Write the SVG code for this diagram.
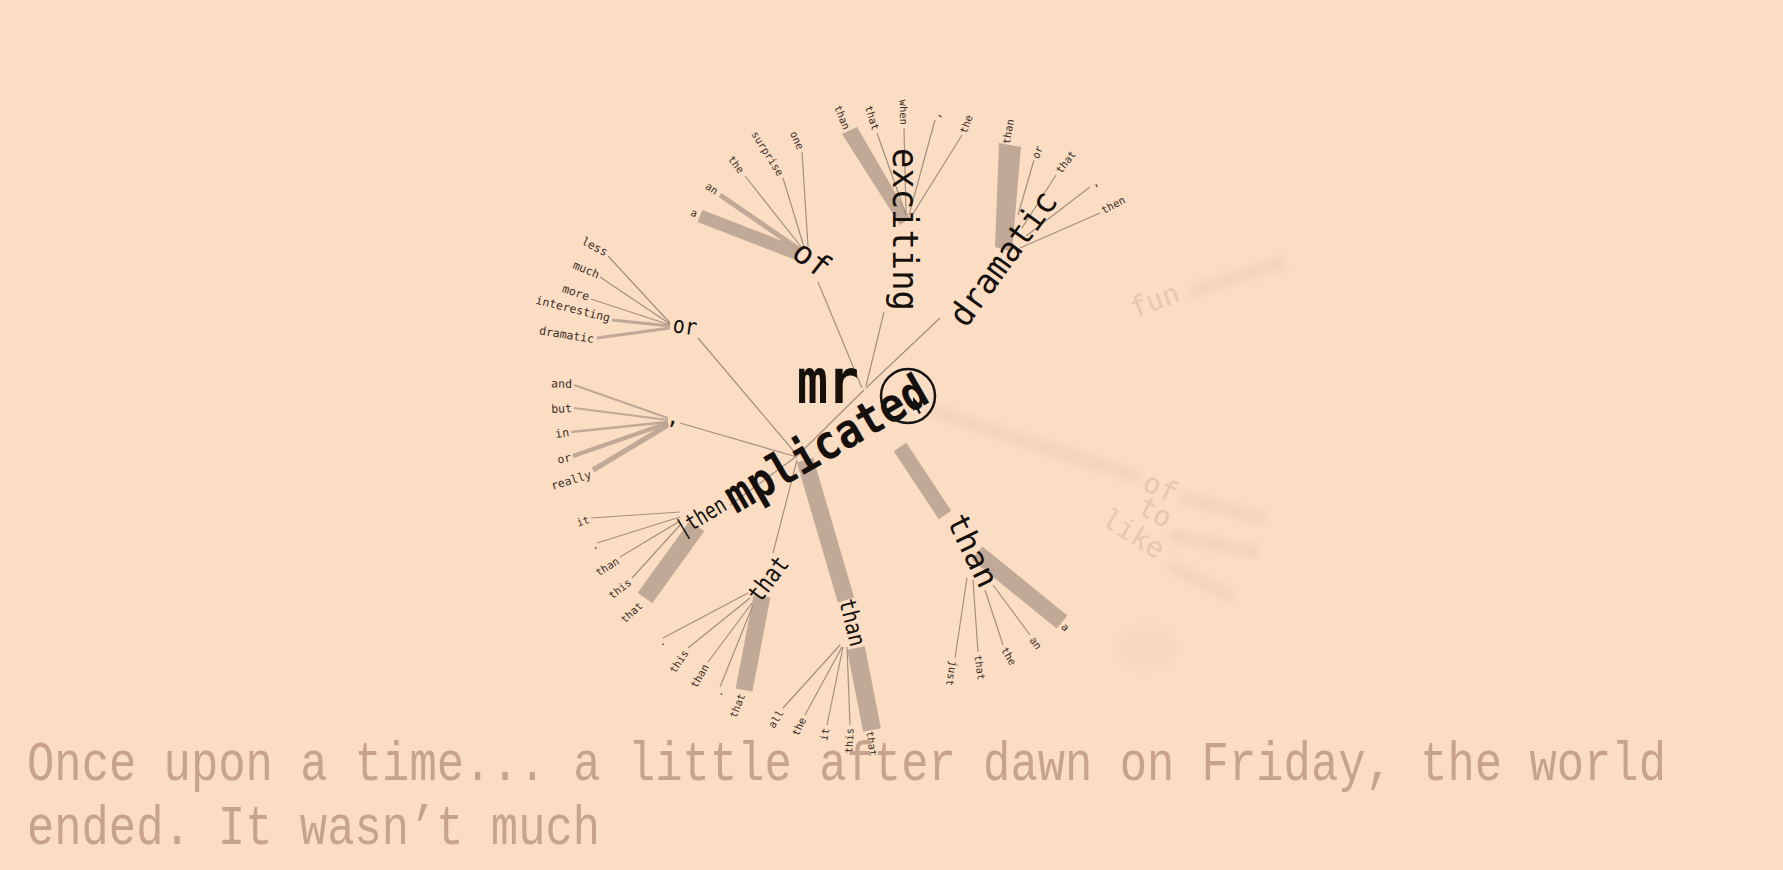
<svg xmlns="http://www.w3.org/2000/svg" width="1783" height="870" viewBox="0 0 1783 870">
<defs>
<style>
.bg{fill:#FADDC3}
.ln{stroke:#a39080;stroke-width:1.2;fill:none}
.bd{stroke:#b9a391;fill:none;stroke-linecap:butt;opacity:.9}
.bp{fill:#b9a391;opacity:.9}
.fb{stroke:#F1D4BC;stroke-width:12;fill:none;filter:url(#blur)}
.lf{font-family:"DejaVu Sans Mono","Liberation Mono",monospace;font-size:10.5px;fill:#3a2f28}
.lg{font-family:"DejaVu Sans Mono","Liberation Mono",monospace;font-size:11.5px;fill:#3a2f28}
.nd{font-family:"DejaVu Sans Mono","Liberation Mono",monospace;fill:#15100c}
.fd{font-family:"DejaVu Sans Mono","Liberation Mono",monospace;fill:#E6C7AF;font-size:28px}
.story{font-family:"Liberation Mono","DejaVu Sans Mono",monospace;font-size:56px;fill:#C7A28C}
</style>
<filter id="blur" x="-20%" y="-50%" width="140%" height="200%"><feGaussianBlur stdDeviation="4"/></filter>
</defs>
<rect class="bg" x="0" y="0" width="1783" height="870"/>

<g id="faded">
<path class="fb" d="M930,410 L1140,478"/>
<path class="fb" d="M1190,292 L1285,262"/>
<path class="fb" d="M1180,497 L1267,520"/>
<path class="fb" d="M1170,535 L1260,553"/>
<path class="fb" d="M1168,565 L1233,597"/>
<ellipse cx="1147" cy="648" rx="30" ry="24" fill="#F6D9C0" filter="url(#blur)"/>
<text class="fd" font-size="30" transform="translate(1134,318) rotate(-20)">fun</text>
<text class="fd" transform="translate(1141,489) rotate(25)">of</text>
<text class="fd" transform="translate(1136,512) rotate(30)">to</text>
<text class="fd" transform="translate(1100,524) rotate(32)">like</text>
</g>

<g id="connectors">
<path class="bd" stroke-width="13" d="M700,216 L798,254"/>
<path class="bd" stroke-width="5" d="M720,195 L800,250"/>
<polygon class="bp" points="842,134 857,127 910,218 900,225"/>
<polygon class="bp" points="999,143 1021,147 1012,252 995,247"/>
<path class="bd" stroke-width="3" d="M612,320 L670,326"/>
<path class="bd" stroke-width="3" d="M597,338 L670,328"/>
<path class="bd" stroke-width="2" d="M574,385 L668,418"/>
<path class="bd" stroke-width="2" d="M574,408 L668,420"/>
<path class="bd" stroke-width="2.5" d="M571,432 L668,422"/>
<path class="bd" stroke-width="4" d="M573,456 L668,423"/>
<path class="bd" stroke-width="5" d="M593,470 L668,425"/>
<path class="bd" stroke-width="18" d="M645,598 L697,526"/>
<path class="bd" stroke-width="17" d="M744,690 L762,596"/>
<path class="bd" stroke-width="17" d="M805,460 L846,600"/>
<path class="bd" stroke-width="18" d="M856,648 L872,730"/>
<path class="bd" stroke-width="15" d="M900,447 L945,515"/>
<path class="bd" stroke-width="17" d="M977,553 L1062,622"/>
<path class="ln" d="M862,388 L818,282"/>
<path class="ln" d="M745,176 L802,248 M783,178 L804,247 M802,152 L808,246"/>
<path class="ln" d="M866,386 L884,312"/>
<path class="ln" d="M877,133 L906,215 M904,128 L906,212 M935,120 L909,215 M962,135 L911,217"/>
<path class="ln" d="M866,388 L940,318"/>
<path class="ln" d="M1034,160 L1018,215 M1056,175 L1022,228 M1090,187 L1026,236 M1100,213 L1020,248"/>
<path class="ln" d="M864,390 L797,456"/>
<path class="ln" d="M797,455 L698,338"/>
<path class="ln" d="M608,256 L670,323 M600,277 L670,324 M591,299 L670,325"/>
<path class="ln" d="M797,457 L680,423"/>
<path class="ln" d="M797,456 L730,505"/>
<path class="ln" d="M591,518 L680,512 M597,543 L680,517 M620,557 L680,521 M632,578 L681,524"/>
<path class="ln" d="M797,460 L773,553"/>
<path class="ln" d="M663,638 L748,593 M688,648 L750,598 M708,662 L752,603 M720,687 L753,605"/>
<path class="ln" d="M783,708 L840,645 M805,715 L842,647 M827,725 L843,647 M850,725 L847,647"/>
<path class="ln" d="M955,658 L967,578 M978,652 L973,580 M1003,645 L985,590 M1030,635 L993,585"/>
</g>

<g id="node-mr"><text class="nd" x="797" y="403" font-size="62" font-weight="bold" fill="#5a4a3f" textLength="62" lengthAdjust="spacingAndGlyphs">mr</text></g>
<g id="node-mplicated"><text class="nd" font-size="47" font-weight="bold" textLength="226" lengthAdjust="spacingAndGlyphs" transform="translate(736,514) rotate(-30)">mplicated</text></g>
<g id="node-of"><text class="nd" font-size="32" transform="translate(790,256) rotate(38)">of</text></g>
<g id="node-exciting"><text class="nd" font-size="35" textLength="163" lengthAdjust="spacingAndGlyphs" transform="translate(893,148) rotate(90)">exciting</text></g>
<g id="node-dramatic"><text class="nd" font-size="34" textLength="158" lengthAdjust="spacingAndGlyphs" transform="translate(966,329) rotate(-54)">dramatic</text></g>
<g id="node-or"><text class="nd" font-size="23" textLength="24" lengthAdjust="spacingAndGlyphs" transform="translate(672,332) rotate(8)">or</text></g>
<g id="node-comma"><text class="nd" font-size="22" x="666" y="424">,</text></g>
<g id="node-then"><text class="nd" font-size="23" textLength="54" lengthAdjust="spacingAndGlyphs" transform="translate(682,537) rotate(-31)">|then</text></g>
<g id="node-that"><text class="nd" font-size="25" textLength="50" lengthAdjust="spacingAndGlyphs" transform="translate(760,604) rotate(-53)">that</text></g>
<g id="node-than-low"><text class="nd" font-size="23" textLength="48" lengthAdjust="spacingAndGlyphs" transform="translate(839,601) rotate(76)">than</text></g>
<g id="node-than-right"><text class="nd" font-size="31" textLength="78" lengthAdjust="spacingAndGlyphs" transform="translate(946,520) rotate(64)">than</text></g>

<g id="focus">
<circle cx="908" cy="396" r="27" fill="none" stroke="#151515" stroke-width="2.5"/>
<polygon points="913,397 913,411 916,408 919,414 921,413 918,407 922,407" fill="#111"/>
</g>

<g id="leaves-of">
<g id="of-a"><text class="lf" dy=".35em" text-anchor="end" transform="translate(697,214) rotate(21)">a</text></g>
<g id="of-an"><text class="lf" dy=".35em" text-anchor="end" transform="translate(717,192) rotate(34)">an</text></g>
<g id="of-the"><text class="lf" dy=".35em" text-anchor="end" transform="translate(742,172) rotate(52)">the</text></g>
<g id="of-surprise"><text class="lf" dy=".35em" text-anchor="end" transform="translate(781,175) rotate(58)">surprise</text></g>
<g id="of-one"><text class="lf" dy=".35em" text-anchor="end" transform="translate(801,149) rotate(65)">one</text></g>
</g>
<g id="leaves-exciting">
<g id="ex-than"><text class="lf" dy=".35em" text-anchor="end" transform="translate(847,129) rotate(68)">than</text></g>
<g id="ex-that"><text class="lf" dy=".35em" text-anchor="end" transform="translate(876,130) rotate(72)">that</text></g>
<g id="ex-when"><text class="lf" dy=".35em" text-anchor="end" transform="translate(904,125) rotate(88)">when</text></g>
<g id="ex-comma"><text class="lf" dy=".35em" transform="translate(936,118) rotate(-75)">,</text></g>
<g id="ex-the"><text class="lf" dy=".35em" transform="translate(963,133) rotate(-70)">the</text></g>
</g>
<g id="leaves-dramatic">
<g id="dr-than"><text class="lf" dy=".35em" transform="translate(1006,144) rotate(-80)">than</text></g>
<g id="dr-or"><text class="lf" dy=".35em" transform="translate(1035,158) rotate(-68)">or</text></g>
<g id="dr-that"><text class="lf" dy=".35em" transform="translate(1058,172) rotate(-52)">that</text></g>
<g id="dr-comma"><text class="lf" dy=".35em" transform="translate(1092,185) rotate(-40)">,</text></g>
<g id="dr-then"><text class="lf" dy=".35em" transform="translate(1102,211) rotate(-28)">then</text></g>
</g>
<g id="leaves-or">
<g id="or-less"><text class="lg" dy=".35em" text-anchor="end" transform="translate(607,253) rotate(28)">less</text></g>
<g id="or-much"><text class="lg" dy=".35em" text-anchor="end" transform="translate(599,275) rotate(23)">much</text></g>
<g id="or-more"><text class="lg" dy=".35em" text-anchor="end" transform="translate(589,297) rotate(19)">more</text></g>
<g id="or-interesting"><text class="lg" dy=".35em" text-anchor="end" transform="translate(610,318) rotate(14)">interesting</text></g>
<g id="or-dramatic"><text class="lg" dy=".35em" text-anchor="end" transform="translate(594,339) rotate(9)">dramatic</text></g>
</g>
<g id="leaves-comma">
<g id="cm-and"><text class="lg" dy=".35em" text-anchor="end" transform="translate(572,384) rotate(2)">and</text></g>
<g id="cm-but"><text class="lg" dy=".35em" text-anchor="end" transform="translate(572,408) rotate(-3)">but</text></g>
<g id="cm-in"><text class="lg" dy=".35em" text-anchor="end" transform="translate(569,432) rotate(-8)">in</text></g>
<g id="cm-or"><text class="lg" dy=".35em" text-anchor="end" transform="translate(571,457) rotate(-12)">or</text></g>
<g id="cm-really"><text class="lg" dy=".35em" text-anchor="end" transform="translate(591,474) rotate(-17)">really</text></g>
</g>
<g id="leaves-then">
<g id="th-it"><text class="lf" dy=".35em" text-anchor="end" transform="translate(589,519) rotate(-20)">it</text></g>
<g id="th-dot"><text class="lf" dy=".35em" text-anchor="end" transform="translate(597,544) rotate(-28)">.</text></g>
<g id="th-than"><text class="lf" dy=".35em" text-anchor="end" transform="translate(618,560) rotate(-32)">than</text></g>
<g id="th-this"><text class="lf" dy=".35em" text-anchor="end" transform="translate(630,581) rotate(-38)">this</text></g>
<g id="th-that"><text class="lf" dy=".35em" text-anchor="end" transform="translate(641,604) rotate(-42)">that</text></g>
</g>
<g id="leaves-that">
<g id="ta-dot1"><text class="lf" dy=".35em" text-anchor="end" transform="translate(663,640) rotate(-50)">.</text></g>
<g id="ta-this"><text class="lf" dy=".35em" text-anchor="end" transform="translate(686,651) rotate(-56)">this</text></g>
<g id="ta-than"><text class="lf" dy=".35em" text-anchor="end" transform="translate(706,665) rotate(-60)">than</text></g>
<g id="ta-dot2"><text class="lf" dy=".35em" text-anchor="end" transform="translate(720,690) rotate(-66)">.</text></g>
<g id="ta-that"><text class="lf" dy=".35em" text-anchor="end" transform="translate(742,694) rotate(-68)">that</text></g>
</g>
<g id="leaves-than-low">
<g id="tl-all"><text class="lf" dy=".35em" text-anchor="end" transform="translate(781,711) rotate(-58)">all</text></g>
<g id="tl-the"><text class="lf" dy=".35em" text-anchor="end" transform="translate(803,718) rotate(-65)">the</text></g>
<g id="tl-it"><text class="lf" dy=".35em" text-anchor="end" transform="translate(826,728) rotate(-78)">it</text></g>
<g id="tl-this"><text class="lf" dy=".35em" text-anchor="end" transform="translate(850,728) rotate(-87)">this</text></g>
<g id="tl-that"><text class="lf" dy=".35em" transform="translate(870,731) rotate(82)">that</text></g>
</g>
<g id="leaves-than-right">
<g id="tr-just"><text class="lf" dy=".35em" transform="translate(954,661) rotate(100)">just</text></g>
<g id="tr-that"><text class="lf" dy=".35em" transform="translate(978,655) rotate(82)">that</text></g>
<g id="tr-the"><text class="lf" dy=".35em" transform="translate(1004,648) rotate(60)">the</text></g>
<g id="tr-an"><text class="lf" dy=".35em" transform="translate(1032,638) rotate(53)">an</text></g>
<g id="tr-a"><text class="lf" dy=".35em" transform="translate(1063,625) rotate(45)">a</text></g>
</g>

<g id="story">
<text class="story" x="27" y="780" textLength="1639" lengthAdjust="spacingAndGlyphs">Once upon a time... a little after dawn on Friday, the world</text>
<text class="story" x="27" y="844" textLength="573" lengthAdjust="spacingAndGlyphs">ended. It wasn’t much</text>
</g>
</svg>
